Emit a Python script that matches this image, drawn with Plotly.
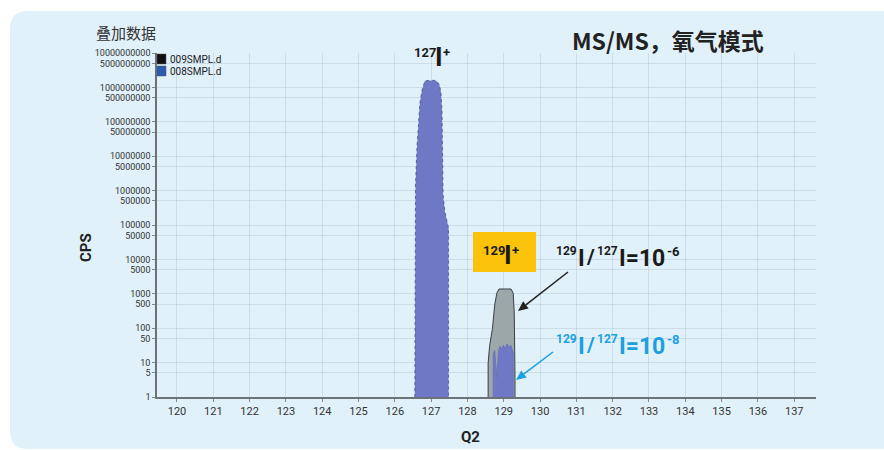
import math
import plotly.graph_objects as go

# Q2 mass axis and the two overlaid acquisitions
x_ticks = list(range(120, 138))
y_tickvals = [1, 5, 10, 50, 100, 500, 1000, 5000, 10000, 50000, 100000, 500000,
              1000000, 5000000, 10000000, 50000000, 100000000, 500000000,
              1000000000, 5000000000, 10000000000]
y_ticktext = [str(v) for v in y_tickvals]

# 008SMPL.d : 127I+ peak profile (Q2, CPS)
s008_127_x = [126.55, 126.55, 126.57, 126.61, 126.65, 126.69, 126.75, 126.83, 126.97,
              127.13, 127.22, 127.27, 127.30, 127.31, 127.33, 127.38, 127.44, 127.48, 127.48]
s008_127_y = [1, 5.4e5, 1.45e6, 1.9e7, 1.1e8, 3.5e8, 8.4e8, 1.55e9, 1.6e9,
              1.6e9, 1.26e9, 7.4e8, 2.2e8, 1.5e7, 7.4e5, 2.4e5, 1.4e5, 8.2e4, 1]

# 009SMPL.d : 129I+ peak profile
s009_129_x = [128.57, 128.57, 128.61, 128.69, 128.75, 128.81, 128.87, 129.20, 129.26,
              129.29, 129.31, 129.31]
s009_129_y = [1, 9.7, 30, 100, 470, 1050, 1380, 1380, 1050, 275, 3, 1]

# 008SMPL.d : 129I+ peak profile
s008_129_x = [128.71, 128.71, 128.75, 128.77, 128.81, 128.83, 128.86, 128.90, 128.95,
              128.99, 129.04, 129.09, 129.15, 129.19, 129.24, 129.26, 129.26]
s008_129_y = [1, 17, 23, 12, 3.8, 8.5, 23, 30, 25, 32, 25, 35, 27, 32, 23, 20, 1]

legend_names = ["009SMPL.d", "008SMPL.d"]
legend_colors = ["#111111", "#2b5bb0"]

BLUE_FILL = "#6f78c4"
GREY_FILL = "#9ca7aa"
CYAN = "#1aa0e0"
INK = "#1a1a1a"
SANS = "Roboto, Liberation Sans, sans-serif"
CJK = "Noto Sans CJK SC, sans-serif"

# plot-area geometry in pixels, used to place overlay elements
L, R, T, B = 157, 816, 53, 397
W, H = R - L, B - T


def px(x):
    return (x - L) / W


def py(y):
    return (B - y) / H


def piece(text, x_left, y_mid, size, color=INK, bold=True):
    """One run of label text, left-aligned at a pixel position."""
    return dict(text=f"<b>{text}</b>" if bold else text, xref="paper", yref="paper",
                x=px(x_left), y=py(y_mid), xanchor="left", yanchor="middle",
                showarrow=False, borderpad=0, borderwidth=0,
                font=dict(family=SANS, size=size, color=color))


def isotope_label(mass, x_left, y_top, color=INK):
    """Mass number as a raised prefix, a tall element symbol, and a raised charge."""
    return [piece(mass, x_left, y_top + 5, 13, color),
            piece("I", x_left + 21, y_top + 9.5, 26, color),
            piece("+", x_left + 29, y_top + 5, 13, color)]


def ratio_label(power, y_base, color):
    """129I / 127I = 10^power, built run by run."""
    return [piece("129", 556, y_base - 7, 12, color),
            piece("I", 578, y_base, 23, color),
            piece("/", 586, y_base - 1, 21, color),
            piece("127", 597, y_base - 7, 12, color),
            piece("I=10", 619, y_base, 23, color),
            piece(power, 667, y_base - 7, 13, color)]


def arrow_shapes(tail, tip, color, head_len=10, head_half=4.5):
    """Line plus filled triangular head, given pixel endpoints."""
    dx, dy = tip[0] - tail[0], tip[1] - tail[1]
    n = math.hypot(dx, dy)
    ux, uy = dx / n, dy / n
    bx, by = tip[0] - ux * head_len, tip[1] - uy * head_len
    p1 = (bx - uy * head_half, by + ux * head_half)
    p2 = (bx + uy * head_half, by - ux * head_half)
    line = dict(type="line", xref="paper", yref="paper",
                x0=px(tail[0]), y0=py(tail[1]), x1=px(bx), y1=py(by),
                line=dict(color=color, width=1.5))
    head = dict(type="path", xref="paper", yref="paper",
                path=(f"M {px(tip[0])},{py(tip[1])} L {px(p1[0])},{py(p1[1])} "
                      f"L {px(p2[0])},{py(p2[1])} Z"),
                fillcolor=color, line=dict(width=0))
    return [line, head]


fig = go.Figure()

fig.add_trace(go.Scatter(
    x=s009_129_x, y=s009_129_y, mode="lines", fill="toself",
    fillcolor=GREY_FILL, line=dict(color="#3a3f44", width=1),
    showlegend=False, hoverinfo="skip"))
fig.add_trace(go.Scatter(
    x=s008_129_x, y=s008_129_y, mode="lines", fill="toself",
    fillcolor=BLUE_FILL, line=dict(color="#6670bb", width=0.8),
    showlegend=False, hoverinfo="skip"))
fig.add_trace(go.Scatter(
    x=s008_127_x, y=s008_127_y, mode="lines", fill="toself",
    fillcolor=BLUE_FILL, line=dict(color="rgba(60,69,128,0.7)", width=1, dash="dot"),
    showlegend=False, hoverinfo="skip"))

shapes = []
# rounded panel behind the chart
x0, x1 = px(10), px(900)
y0, y1 = py(449), py(11)
rx, ry = 18 / W, 18 / H
panel = (f"M {x0 + rx},{y1} L {x1},{y1} L {x1},{y0} L {x0 + rx},{y0} "
         f"Q {x0},{y0} {x0},{y0 + ry} L {x0},{y1 - ry} Q {x0},{y1} {x0 + rx},{y1} Z")
shapes.append(dict(type="path", path=panel, xref="paper", yref="paper",
                   fillcolor="#e1f1fa", line=dict(width=0), layer="below"))

# yellow tag behind the 129I+ label
shapes.append(dict(type="rect", xref="paper", yref="paper",
                   x0=px(473), x1=px(536), y0=py(272), y1=py(232),
                   fillcolor="#fcc30c", line=dict(width=0)))

# pointers from the ratio labels to the 129 peaks
shapes += arrow_shapes((568, 272), (518, 311), "#222222")
shapes += arrow_shapes((553, 352), (516, 380), CYAN)

# legend swatches
annotations = []
for i, (name, col) in enumerate(zip(legend_names, legend_colors)):
    top = 54 + i * 12
    shapes.append(dict(type="rect", xref="paper", yref="paper",
                       x0=px(157), x1=px(166), y0=py(top + 10), y1=py(top),
                       fillcolor=col, line=dict(color="#555", width=0.5)))
    annotations.append(dict(text=name, xref="paper", yref="paper",
                            x=px(168), y=py(top + 5), xanchor="left", yanchor="middle",
                            showarrow=False, font=dict(family=SANS, size=10, color="#222")))

annotations += [
    dict(text="叠加数据", xref="paper", yref="paper", x=px(94), y=py(33),
         xanchor="left", yanchor="middle", showarrow=False,
         font=dict(family=CJK, size=15, color="#333")),
    dict(text="<b>MS/MS，氧气模式</b>", xref="paper", yref="paper", x=px(668), y=py(40),
         xanchor="center", yanchor="middle", showarrow=False,
         font=dict(family=CJK, size=23, color="#222")),
    # axis titles
    dict(text="<b>CPS</b>", xref="paper", yref="paper", x=px(86), y=py(248),
         xanchor="center", yanchor="middle", textangle=-90, showarrow=False,
         font=dict(family=SANS, size=15, color="#222")),
    dict(text="<b>Q2</b>", xref="paper", yref="paper", x=px(470), y=py(437),
         xanchor="center", yanchor="middle", showarrow=False,
         font=dict(family=SANS, size=15, color="#222")),
]
annotations += isotope_label("127", 414, 47)
annotations += isotope_label("129", 483, 245)
annotations += ratio_label("-6", 258, INK)
annotations += ratio_label("-8", 346, CYAN)

fig.update_layout(
    width=884, height=450,
    margin=dict(l=L, r=884 - R, t=T, b=450 - B),
    paper_bgcolor="white", plot_bgcolor="rgba(0,0,0,0)",
    showlegend=False, shapes=shapes, annotations=annotations,
    xaxis=dict(range=[119.45, 137.6], tickvals=x_ticks, ticktext=[str(v) for v in x_ticks],
               showgrid=True, gridcolor="rgba(140,165,185,0.25)", gridwidth=1,
               showline=True, linecolor="#6b7278", linewidth=1.5,
               ticks="outside", ticklen=3, tickcolor="#888",
               tickfont=dict(family=SANS, size=11, color="#333"), zeroline=False),
    yaxis=dict(type="log", range=[0, 10], tickvals=y_tickvals, ticktext=y_ticktext,
               showgrid=True, gridcolor="rgba(140,165,185,0.25)", gridwidth=1,
               showline=True, linecolor="#6b7278", linewidth=1.5,
               ticks="outside", ticklen=3, tickcolor="#888",
               tickfont=dict(family=SANS, size=9, color="#333"), zeroline=False),
)

fig.write_html("out.html")
